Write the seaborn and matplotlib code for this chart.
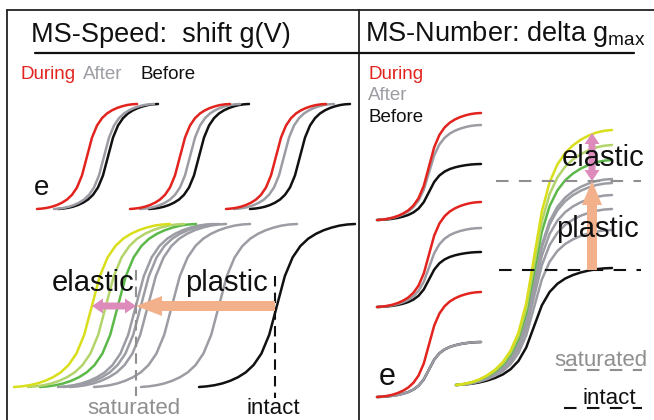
import numpy as np
import pandas as pd
import seaborn as sns
import matplotlib
matplotlib.use("Agg")
import matplotlib.pyplot as plt
from matplotlib.patches import FancyArrow

sns.set_theme(style="white")
plt.rcParams['font.family'] = ['Liberation Sans', 'DejaVu Sans']

# normalised S-shape of a single g(V) curve
PROFILE_U = [-1.0, -0.9, -0.8, -0.7, -0.6, -0.5, -0.4, -0.3, -0.2, -0.1, 0.0,
             0.1, 0.2, 0.3, 0.4, 0.5, 0.6, 0.7, 0.8, 0.9, 1.0]
PROFILE_G = [0.0, 0.004, 0.011, 0.022, 0.038, 0.06, 0.09, 0.135, 0.205, 0.32, 0.5,
             0.68, 0.795, 0.865, 0.91, 0.94, 0.962, 0.978, 0.99, 0.997, 1.0]

# MS-Speed examples: half-activation of each curve
SPEED_DURING = [87, 180, 276]
SPEED_AFTER = [104, 190, 284]
SPEED_BEFORE = [108, 199, 300]

# MS-Speed summary: curves from saturated-elastic (yellow) to intact (black)
SPEED_ELASTIC = ['yellow', 'yellowgreen', 'green']
SPEED_ELASTIC_MID = [92, 106, 118]
SPEED_PLASTIC_MID = [136, 141, 148, 172, 219]
SPEED_INTACT_MID = 277

# MS-Number examples: g max of each curve
NUMBER_DURING = [107, 105, 105]
NUMBER_AFTER = [95, 79, 55]
NUMBER_BEFORE = [56, 55, 55]

# MS-Number summary
NUMBER_ELASTIC_GMAX = [255, 240, 225]
NUMBER_PLASTIC_GMAX = [206, 202, 190, 176, 155]
NUMBER_INTACT_GMAX = 117

COL = {'during': '#e2231e', 'after': '#9c9da4', 'before': '#111111',
       'yellow': '#d9de1a', 'yellowgreen': '#b3d46a', 'green': '#5db84a',
       'plastic': '#f2b18b', 'elastic': '#dc8bbb', 'sat': '#8f8f8f'}

rows = []


def add_curve(name, color, mid, half, base, height):
    u = np.array(PROFILE_U)
    g = np.array(PROFILE_G)
    for x, y in zip(mid + half * u, base - height * g):
        rows.append((name, color, x, y))


# left top row (shift)
for i in range(3):
    add_curve(f'sb{i}', COL['before'], SPEED_BEFORE[i], 50, 209, 105)
    add_curve(f'sa{i}', COL['after'], SPEED_AFTER[i], 50, 209, 105)
    add_curve(f'sd{i}', COL['during'], SPEED_DURING[i], 50, 209, 105)

# left bottom row
for i, m in enumerate(SPEED_PLASTIC_MID):
    add_curve(f'sp{i}', COL['after'], m, 78, 387, 163)
for name, m in zip(SPEED_ELASTIC[::-1], SPEED_ELASTIC_MID[::-1]):
    add_curve('se' + name, COL[name], m, 78, 387, 163)
add_curve('sint', COL['before'], SPEED_INTACT_MID, 78, 387, 163)

# right small examples (delta gmax)
for i, base in enumerate([220, 307, 397]):
    add_curve(f'nb{i}', COL['before'], 429, 52, base, NUMBER_BEFORE[i])
    add_curve(f'na{i}', COL['after'], 429, 52, base, NUMBER_AFTER[i])
    add_curve(f'nd{i}', COL['during'], 429, 52, base, NUMBER_DURING[i])

# right summary
add_curve('nint', COL['before'], 534, 78, 385, NUMBER_INTACT_GMAX)
for i, h in enumerate(NUMBER_PLASTIC_GMAX):
    add_curve(f'np{i}', COL['after'], 534, 78, 385, h)
for name, h in zip(SPEED_ELASTIC[::-1], NUMBER_ELASTIC_GMAX[::-1]):
    add_curve('ne' + name, COL[name], 534, 78, 385, h)

df = pd.DataFrame(rows, columns=['curve', 'color', 'x', 'y'])
palette = dict(zip(df['curve'], df['color']))

fig = plt.figure(figsize=(6.54, 4.2), dpi=100)
ax = fig.add_axes([0, 0, 1, 1])
sns.lineplot(data=df, x='x', y='y', hue='curve', palette=palette, sort=False,
             estimator=None, legend=False, linewidth=1.8, ax=ax)
ax.set_xlim(0, 654)
ax.set_ylim(420, 0)
ax.axis('off')

# frame
ax.plot([7, 654], [10, 10], color='#222222', lw=1.3)
ax.plot([7, 7], [10, 420], color='#222222', lw=1.3)
ax.plot([359, 359], [10, 420], color='#222222', lw=1.3)
ax.plot([35, 634], [53, 53], color='#111111', lw=1.6)

ax.text(31, 42, 'MS-Speed:  shift g(V)', fontsize=19.5, color='#111111')
ax.text(365, 41, 'MS-Number: delta g$_{\\mathregular{max}}$', fontsize=19.5,
        color='#111111')

# legends
ax.text(20, 79, 'During', fontsize=13.5, color=COL['during'])
ax.text(83, 79, 'After', fontsize=13.5, color=COL['after'])
ax.text(140, 79, 'Before', fontsize=13.5, color=COL['before'])
ax.text(368, 79, 'During', fontsize=13.5, color=COL['during'])
ax.text(368, 100, 'After', fontsize=13.5, color=COL['after'])
ax.text(368, 122, 'Before', fontsize=13.5, color=COL['before'])

ax.text(34, 195, 'e', fontsize=20, color='#111111')
ax.text(379, 385, 'e', fontsize=22, color='#111111')

# left summary: dashed markers + arrows
sat_x = min(SPEED_PLASTIC_MID)
yel_x = SPEED_ELASTIC_MID[0]
ax.plot([sat_x, sat_x], [270, 396], color=COL['sat'], lw=1.5, ls=(0, (5, 3)), zorder=3)
ax.plot([SPEED_INTACT_MID - 2] * 2, [276, 398], color='#111111', lw=1.5,
        ls=(0, (5, 3)), zorder=3)
ax.add_patch(FancyArrow(SPEED_INTACT_MID - 2, 306, sat_x - SPEED_INTACT_MID + 2, 0,
                        width=10, head_width=20, head_length=26,
                        length_includes_head=True, color=COL['plastic'], lw=0, zorder=4))
mid = (sat_x + yel_x) / 2
for end in (sat_x, yel_x):
    ax.add_patch(FancyArrow(mid, 306, end - mid, 0, width=7, head_width=15,
                            head_length=11, length_includes_head=True,
                            color=COL['elastic'], lw=0, zorder=4))
ax.text(52, 291, 'elastic', fontsize=21, color='#111111', zorder=5)
ax.text(185, 291, 'plastic', fontsize=21, color='#111111', zorder=5)
ax.text(87, 414, 'saturated', fontsize=16, color=COL['sat'])
ax.text(247, 414, 'intact', fontsize=16, color='#111111')

# right summary
sat_y = 385 - max(NUMBER_PLASTIC_GMAX)
int_y = 385 - NUMBER_INTACT_GMAX
yel_y = 385 - NUMBER_ELASTIC_GMAX[0]
ax.plot([496, 641], [sat_y + 2] * 2, color=COL['sat'], lw=1.5, ls=(0, (6, 5)), zorder=3)
ax.plot([499, 641], [int_y + 2] * 2, color='#111111', lw=1.5, ls=(0, (6, 5)), zorder=3)
ax.add_patch(FancyArrow(592, int_y + 2, 0, sat_y - int_y, width=10, head_width=20,
                        head_length=24, length_includes_head=True,
                        color=COL['plastic'], lw=0, zorder=4))
mid = (sat_y + 2 + yel_y + 3) / 2
for end in (sat_y + 2, yel_y + 3):
    ax.add_patch(FancyArrow(592, mid, 0, end - mid, width=7, head_width=15,
                            head_length=11, length_includes_head=True,
                            color=COL['elastic'], lw=0, zorder=4))
ax.text(562, 166, 'elastic', fontsize=21, color='#111111', zorder=5)
ax.text(556, 237, 'plastic', fontsize=21, color='#111111', zorder=5)
ax.text(554, 366, 'saturated', fontsize=16, color=COL['sat'])
ax.plot([564, 642], [370, 370], color=COL['sat'], lw=1.5, ls=(0, (6, 5)))
ax.text(582, 404, 'intact', fontsize=16, color='#111111')
ax.plot([564, 642], [408, 408], color='#111111', lw=1.5, ls=(0, (6, 5)))

fig.savefig('out.png', dpi=100)
plt.close()
